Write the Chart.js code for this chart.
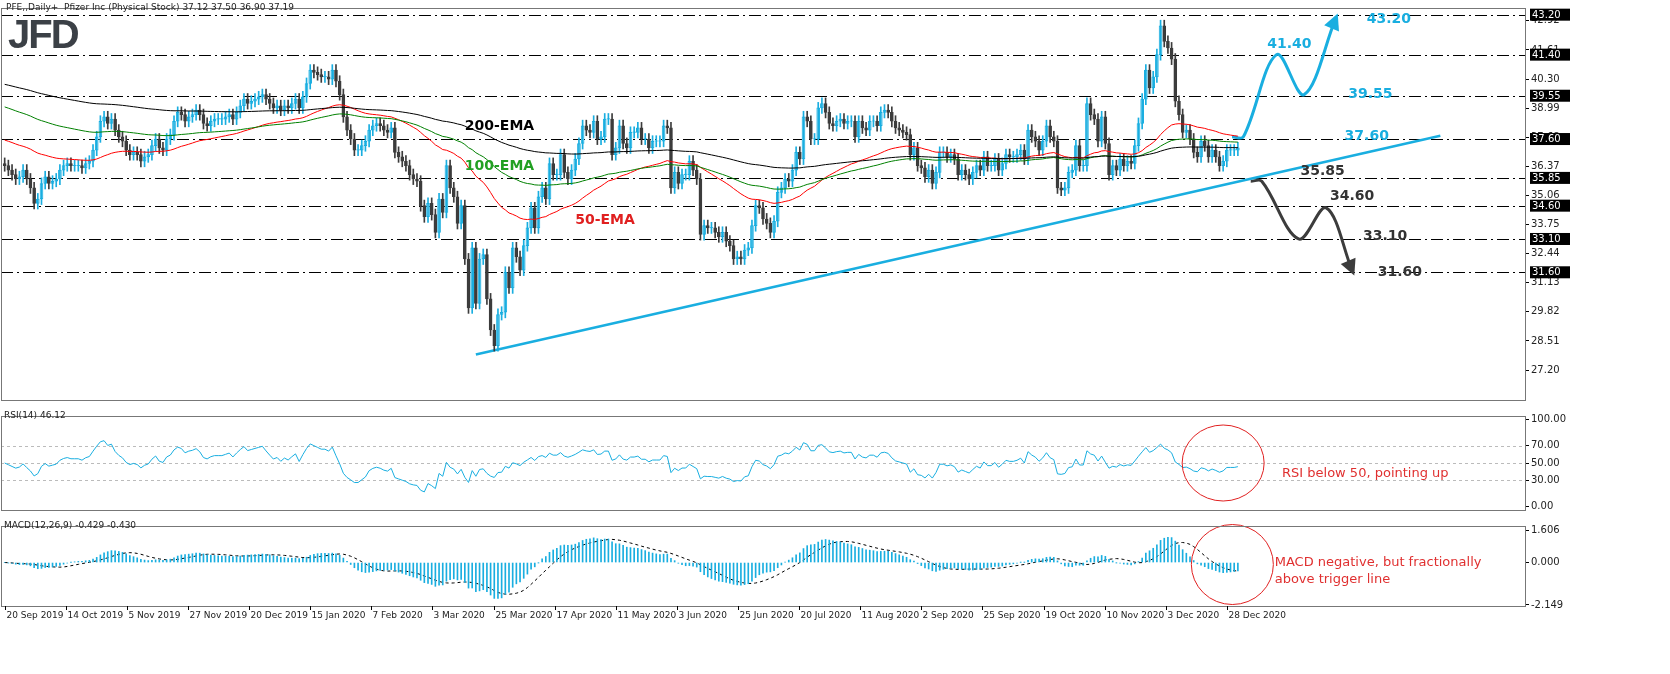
<!DOCTYPE html>
<html>
<head>
<meta charset="utf-8">
<script src="https://cdn.jsdelivr.net/npm/chart.js@4"></script>
<style>
  html, body { margin: 0; padding: 0; background: #fff; }
  body { width: 1670px; height: 674px; overflow: hidden; position: relative; font-family: "DejaVu Sans", sans-serif; }
  canvas { position: absolute; left: 0; width: 1670px; }
  .txt { position: absolute; white-space: nowrap; }
</style>
</head>
<body>
<canvas id="mainChart" width="1670" height="408" style="top:0px;height:408px"></canvas>
<canvas id="rsiChart" width="1670" height="110" style="top:408px;height:110px"></canvas>
<canvas id="macdChart" width="1670" height="156" style="top:518px;height:156px"></canvas>
<div class="txt" style="left:6px;top:2px;font-size:9px;color:#222">PFE,,Daily+ &nbsp;Pfizer Inc (Physical Stock) 37.12 37.50 36.90 37.19</div>
<div class="txt" style="left:8px;top:12px;font-size:40px;font-weight:bold;color:#3b4046;letter-spacing:-2px;font-family:'Liberation Sans',sans-serif">JFD</div>
<div class="txt" style="left:4px;top:410px;font-size:9px;color:#222">RSI(14) 46.12</div>
<div class="txt" style="left:4px;top:520px;font-size:9px;color:#222">MACD(12,26,9) -0.429 -0.430</div>

<script>
// Данные: дневные закрытия PFE, 20 сен 2019 – 4 янв 2021
const closes = [
  36.4,36.2,36.0,35.8,35.9,36.2,35.8,35.4,34.7,34.9,35.6,35.9,35.6,35.7,35.8,36.2,
  36.4,36.5,36.4,36.4,36.4,36.3,36.5,36.6,37.1,37.7,38.4,38.6,38.3,38.5,38.0,37.7,
  37.5,37.1,36.9,37.0,36.9,36.6,36.8,36.9,37.3,37.6,37.2,37.1,37.6,37.8,38.4,38.8,
  38.7,38.4,38.6,38.7,38.9,38.7,38.3,38.2,38.4,38.5,38.5,38.5,38.6,38.7,38.5,38.8,
  39.1,39.4,39.2,39.3,39.4,39.5,39.6,39.4,39.2,39.0,39.1,38.9,39.1,39.0,39.2,39.4,
  39.0,39.5,40.1,40.7,40.6,40.5,40.4,40.4,40.3,40.7,40.2,39.6,38.6,38.0,37.6,37.1,
  37.1,37.3,37.5,38.0,38.2,38.3,38.2,38.0,37.9,38.1,37.0,36.8,36.6,36.4,36.0,35.8,
  35.7,
  34.6,34.1,34.7,34.2,33.4,34.9,34.3,36.4,35.4,35.0,
  33.8,34.6,32.2,30.0,32.7,30.2,32.2,32.4,30.4,29.0,
  28.3,29.7,29.8,31.6,30.9,32.7,32.3,31.7,32.8,33.6,
  34.5,33.6,35.0,35.4,34.9,36.5,36.0,36.0,36.9,36.1,
  35.8,36.2,36.7,37.4,38.2,38.0,37.9,38.4,37.6,37.7,
  38.5,38.5,36.9,37.2,38.2,37.4,37.2,37.9,37.9,38.1,
  37.6,37.6,37.2,37.5,37.5,37.5,38.2,38.1,35.4,36.1,
  35.6,36.0,36.0,36.6,36.2,35.8,33.3,33.7,33.6,33.6,
  33.4,33.2,33.4,33.0,32.8,32.2,32.3,32.2,32.6,32.7,
  33.7,34.6,34.5,34.0,33.8,33.4,33.9,35.2,35.4,
  35.8,35.7,36.2,37.0,36.7,38.6,38.4,37.6,37.6,39.0,
  39.2,38.8,38.3,38.2,38.4,38.5,38.3,38.4,38.4,37.7,
  38.4,38.1,38.0,38.4,38.4,38.2,38.8,38.9,38.8,38.4,
  38.1,38.0,37.9,37.8,36.9,37.2,36.4,36.3,35.9,36.2,
  35.6,36.1,37.0,37.0,36.8,36.9,36.7,36.0,36.2,36.0,
  35.8,36.1,36.4,36.2,36.8,36.4,36.4,36.7,36.2,36.5,
  36.9,36.8,36.8,36.9,37.1,36.7,38.0,37.7,37.5,37.1,
  37.5,38.2,37.7,37.5,35.4,35.3,35.4,36.1,36.2,37.3,
  36.4,36.4,39.2,38.7,38.5,37.5,38.6,37.4,36.0,36.4,
  36.2,36.7,36.4,36.6,36.5,37.3,38.3,39.4,40.7,39.9,
  40.4,41.4,42.7,42.0,
  41.7,41.2,39.3,38.7,37.9,38.0,37.6,37.0,36.8,37.5,37.3,36.8,37.1,36.8,36.4,36.6,37.1,37.1,37.1,37.2
];
const firstOpen = 36.5;
const emaSeeds = { 50: 37.6, 100: 39.1, 200: 40.1 };

const dateLabels = ['20 Sep 2019','14 Oct 2019','5 Nov 2019','27 Nov 2019','20 Dec 2019','15 Jan 2020',
  '7 Feb 2020','3 Mar 2020','25 Mar 2020','17 Apr 2020','11 May 2020','3 Jun 2020','25 Jun 2020',
  '20 Jul 2020','11 Aug 2020','2 Sep 2020','25 Sep 2020','19 Oct 2020','10 Nov 2020','3 Dec 2020','28 Dec 2020'];
const LABEL_STEP = 16.6;
const priceTicks = [42.92,41.61,40.30,38.99,37.68,36.37,35.06,33.75,32.44,31.13,29.82,28.51,27.20];
const levels = [43.20,41.40,39.55,37.60,35.85,34.60,33.10,31.60];
const rsiTicks = [100,70,50,30,0];
const rsiLevels = [70,50,30];
const macdTicks = [1.606,0,-2.149];

// Трендовая линия и сценарии (индекс бара, цена)
const trendLine = [{x:128,y:27.9},{x:390,y:37.75}];
const bullPath = [{x:333.4,y:37.7},{x:336.5,y:37.7},{x:345.5,y:41.4},{x:353,y:39.6},{x:361.5,y:43.0}];
const bearPath = [{x:338.5,y:35.7},{x:341.5,y:35.7},{x:351.5,y:33.1},{x:359,y:34.5},{x:366,y:31.7}];
const bullLabels = [['41.40',343,41.85],['43.20',370,43.0],['39.55',365,39.6],['37.60',364,37.7]];
const bearLabels = [['35.85',352,36.15],['34.60',360,35.0],['33.10',369,33.2],['31.60',373,31.6]];
const emaLabels = [['200-EMA',125,38.15,'#000'],['100-EMA',125,36.35,'#22a022'],['50-EMA',155,33.95,'#e02020']];

const BULL = '#19aee0', BEAR = '#3c3c3c';
const X_MIN = -1, X_MAX = 413, AXIS_W = 145;

// Производные ряды
const opens = closes.map((c, i) => i === 0 ? firstOpen : closes[i - 1]);
function ema(src, n, seed) {
  const k = 2 / (n + 1); let v = seed;
  return src.map(c => (v = v + k * (c - v)));
}
const ema50 = ema(closes, 50, emaSeeds[50]);
const ema100 = ema(closes, 100, emaSeeds[100]);
const ema200 = ema(closes, 200, emaSeeds[200]);

const rsi = [];
{ let ag = 0.2, al = 0.2;
  closes.forEach((c, i) => {
    const d = i ? c - closes[i - 1] : 0;
    ag = (ag * 13 + Math.max(d, 0)) / 14;
    al = (al * 13 + Math.max(-d, 0)) / 14;
    rsi.push(100 - 100 / (1 + ag / al));
  });
}
const e12 = ema(closes, 12, closes[0]), e26 = ema(closes, 26, closes[0]);
const macd = closes.map((c, i) => e12[i] - e26[i]);
const signal = macd.map((v, i) => {
  const s = macd.slice(Math.max(0, i - 8), i + 1);
  return s.reduce((a, b) => a + b, 0) / s.length;
});

const idx = closes.map((c, i) => i);
const bodies = idx.map(i => ({ x: i, y: [opens[i], closes[i] === opens[i] ? closes[i] + 0.02 : closes[i]] }));
const wicks = idx.map(i => ({ x: i, y: [Math.min(opens[i], closes[i]) - 0.25, Math.max(opens[i], closes[i]) + 0.25] }));
const bodyFill = idx.map(i => closes[i] >= opens[i] ? '#ffffff' : BEAR);
const bodyBorder = idx.map(i => closes[i] >= opens[i] ? BULL : BEAR);
const xy = arr => arr.map((v, i) => ({ x: i, y: v }));

Chart.defaults.font.family = 'DejaVu Sans, sans-serif';
Chart.defaults.animation = false;
Chart.defaults.plugins.legend.display = false;
Chart.defaults.plugins.tooltip.enabled = false;

function xScale() {
  return { type: 'linear', min: X_MIN, max: X_MAX, display: false, offset: false };
}
function yScale(min, max, ticks, fmt) {
  return {
    position: 'right', min, max,
    afterBuildTicks: s => { s.ticks = ticks.map(v => ({ value: v })); },
    afterFit: s => { s.width = AXIS_W; },
    ticks: { font: { size: 10 }, color: '#222', padding: 2, callback: v => v.toFixed(fmt) },
    grid: { drawOnChartArea: false, tickLength: 4, color: '#000' },
    border: { display: true, color: '#000' }
  };
}
const frame = {
  id: 'frame',
  afterDraw(chart) {
    const { ctx, chartArea: a } = chart;
    ctx.save(); ctx.strokeStyle = '#777'; ctx.lineWidth = 1;
    ctx.strokeRect(a.left + 0.5, a.top + 0.5, a.width, a.height);
    ctx.restore();
  }
};
// Подписи дат под нижней панелью, выровнены по левому краю от метки
const dateAxis = {
  id: 'dateAxis',
  afterDraw(chart) {
    const { ctx, chartArea: a, scales: { x } } = chart;
    ctx.save(); ctx.font = '9px "DejaVu Sans", sans-serif'; ctx.fillStyle = '#222';
    ctx.strokeStyle = '#000'; ctx.textBaseline = 'top';
    dateLabels.forEach((l, k) => {
      const px = Math.round(x.getPixelForValue(k * LABEL_STEP)) + 0.5;
      ctx.beginPath(); ctx.moveTo(px, a.bottom); ctx.lineTo(px, a.bottom + 4); ctx.stroke();
      ctx.fillText(l, px + 1, a.bottom + 5);
    });
    ctx.restore();
  }
};
function hLines(values, dash, color) {
  return {
    id: 'hlines',
    beforeDatasetsDraw(chart) {
      const { ctx, chartArea: a, scales: { y } } = chart;
      ctx.save(); ctx.setLineDash(dash); ctx.strokeStyle = color; ctx.lineWidth = 1;
      values.forEach(v => {
        const py = Math.round(y.getPixelForValue(v)) + 0.5;
        ctx.beginPath(); ctx.moveTo(a.left, py); ctx.lineTo(a.right, py); ctx.stroke();
      });
      ctx.restore();
    }
  };
}
function arrowHead(ctx, chart, path, color) {
  const { x, y } = chart.scales;
  const p1 = path[path.length - 2], p2 = path[path.length - 1];
  const x1 = x.getPixelForValue(p1.x), y1 = y.getPixelForValue(p1.y);
  const x2 = x.getPixelForValue(p2.x), y2 = y.getPixelForValue(p2.y);
  const ang = Math.atan2(y2 - y1, x2 - x1);
  ctx.save(); ctx.fillStyle = color; ctx.translate(x2, y2); ctx.rotate(ang);
  ctx.beginPath(); ctx.moveTo(6, 0); ctx.lineTo(-10, -8); ctx.lineTo(-10, 8); ctx.closePath(); ctx.fill();
  ctx.restore();
}
const mainDecor = {
  id: 'mainDecor',
  afterDatasetsDraw(chart) {
    const { ctx, scales: { x, y } } = chart;
    ctx.save();
    ctx.font = 'bold 14px "DejaVu Sans", sans-serif'; ctx.textBaseline = 'middle';
    emaLabels.forEach(([t, i, v, c]) => { ctx.fillStyle = c; ctx.fillText(t, x.getPixelForValue(i), y.getPixelForValue(v)); });
    ctx.fillStyle = BULL;
    bullLabels.forEach(([t, i, v]) => ctx.fillText(t, x.getPixelForValue(i), y.getPixelForValue(v)));
    ctx.fillStyle = '#333';
    bearLabels.forEach(([t, i, v]) => ctx.fillText(t, x.getPixelForValue(i), y.getPixelForValue(v)));
    arrowHead(ctx, chart, bullPath, BULL);
    arrowHead(ctx, chart, bearPath, '#3c3c3c');
    ctx.restore();
  },
  afterDraw(chart) {
    const { ctx, chartArea: a, scales: { y } } = chart;
    ctx.save(); ctx.font = '10px "DejaVu Sans", sans-serif'; ctx.textBaseline = 'middle';
    levels.forEach(v => {
      const py = y.getPixelForValue(v);
      ctx.fillStyle = '#000'; ctx.fillRect(a.right + 5, py - 6, 40, 12);
      ctx.fillStyle = '#fff'; ctx.fillText(v.toFixed(2), a.right + 7, py + 0.5);
    });
    ctx.restore();
  }
};

new Chart(document.getElementById('mainChart'), {
  type: 'bar',
  data: {
    datasets: [
      { type: 'line', data: xy(ema200), borderColor: '#000', borderWidth: 1, pointRadius: 0 },
      { type: 'line', data: xy(ema100), borderColor: '#008000', borderWidth: 1, pointRadius: 0 },
      { type: 'line', data: xy(ema50), borderColor: '#ff0000', borderWidth: 1, pointRadius: 0 },
      { data: wicks, backgroundColor: bodyBorder, barThickness: 1, grouped: false },
      { data: bodies, backgroundColor: bodyFill, borderColor: bodyBorder, borderWidth: 1, borderSkipped: false, barThickness: 3, grouped: false },
      { type: 'line', data: trendLine, borderColor: BULL, borderWidth: 2.5, pointRadius: 0 },
      { type: 'line', data: bullPath, borderColor: BULL, borderWidth: 3, pointRadius: 0, tension: 0.35 },
      { type: 'line', data: bearPath, borderColor: '#3c3c3c', borderWidth: 3, pointRadius: 0, tension: 0.35 }
    ]
  },
  options: {
    responsive: false, devicePixelRatio: 1,
    layout: { padding: { top: 2, left: 1, right: 0, bottom: 0 } },
    scales: { x: xScale(), y: yScale(25.85, 43.5, priceTicks, 2) }
  },
  plugins: [hLines(levels, [12, 4, 2, 4], '#000'), mainDecor, frame]
});

const rsiDecor = {
  id: 'rsiDecor',
  afterDatasetsDraw(chart) {
    const { ctx, scales: { x, y } } = chart;
    ctx.save();
    ctx.strokeStyle = '#e02020'; ctx.lineWidth = 1;
    ctx.beginPath(); ctx.ellipse(x.getPixelForValue(331), y.getPixelForValue(50), 41, 38, 0, 0, Math.PI * 2); ctx.stroke();
    ctx.fillStyle = '#e03030'; ctx.font = '13px "DejaVu Sans", sans-serif'; ctx.textBaseline = 'middle';
    ctx.fillText('RSI below 50, pointing up', x.getPixelForValue(347), y.getPixelForValue(38));
    ctx.restore();
  }
};
new Chart(document.getElementById('rsiChart'), {
  type: 'line',
  data: { datasets: [{ data: xy(rsi), borderColor: BULL, borderWidth: 1, pointRadius: 0 }] },
  options: {
    responsive: false, devicePixelRatio: 1,
    layout: { padding: { top: 1, left: 1, right: 0, bottom: 0 } },
    scales: { x: xScale(), y: yScale(-4, 104, rsiTicks, 2) }
  },
  plugins: [hLines(rsiLevels, [3, 3], '#bbb'), rsiDecor, frame]
});

const macdDecor = {
  id: 'macdDecor',
  afterDatasetsDraw(chart) {
    const { ctx, scales: { x, y } } = chart;
    ctx.save();
    ctx.strokeStyle = '#e02020'; ctx.lineWidth = 1;
    ctx.beginPath(); ctx.ellipse(x.getPixelForValue(333.5), y.getPixelForValue(-0.1), 41, 40, 0, 0, Math.PI * 2); ctx.stroke();
    ctx.fillStyle = '#e03030'; ctx.font = '13px "DejaVu Sans", sans-serif'; ctx.textBaseline = 'middle';
    ctx.fillText('MACD negative, but fractionally', x.getPixelForValue(345), y.getPixelForValue(0));
    ctx.fillText('above trigger line', x.getPixelForValue(345), y.getPixelForValue(-0.85));
    ctx.restore();
  }
};
new Chart(document.getElementById('macdChart'), {
  type: 'bar',
  data: {
    datasets: [
      { data: xy(macd), backgroundColor: BULL, barThickness: 1 },
      { type: 'line', data: xy(signal), borderColor: '#000', borderWidth: 1, borderDash: [3, 3], pointRadius: 0 }
    ]
  },
  options: {
    responsive: false, devicePixelRatio: 1,
    layout: { padding: { top: 1, left: 1, right: 0, bottom: 68 } },
    scales: { x: xScale(), y: yScale(-2.2, 1.85, macdTicks, 3) }
  },
  plugins: [macdDecor, frame, dateAxis]
});
</script>
</body>
</html>
